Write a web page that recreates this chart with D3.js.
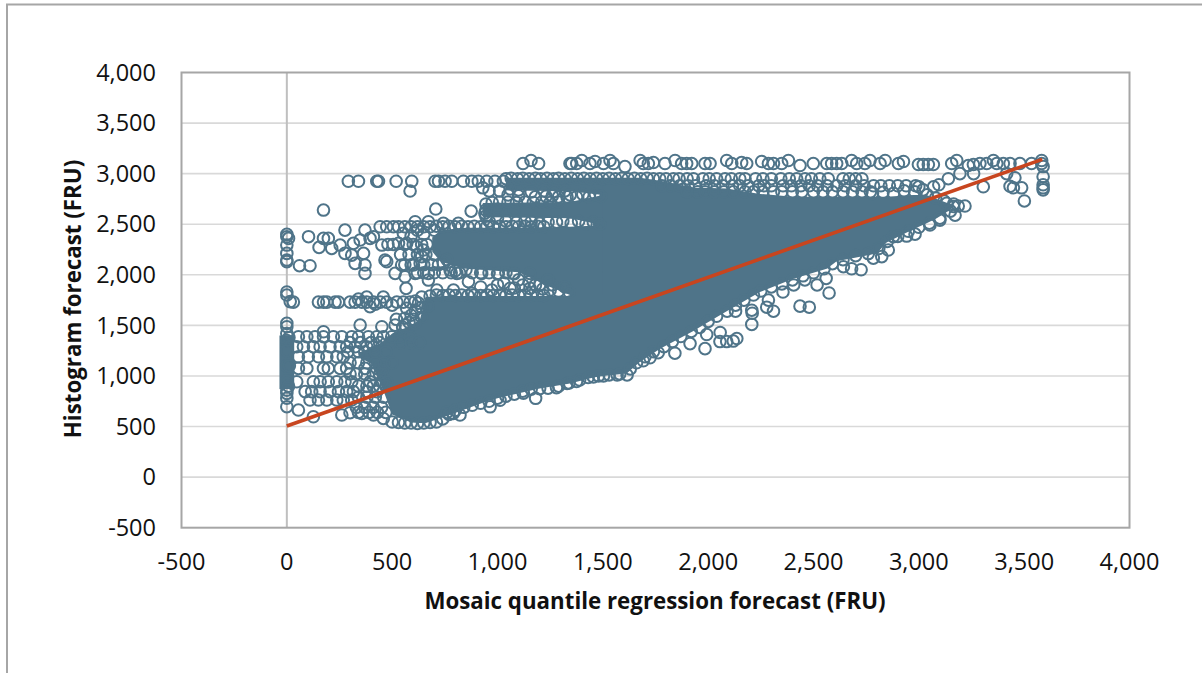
<!DOCTYPE html>
<html><head><meta charset="utf-8">
<script src="https://cdn.jsdelivr.net/npm/d3@7/dist/d3.min.js"></script>
<style>html,body{margin:0;padding:0;background:#fff}svg{display:block}text{font-family:"Open Sans",sans-serif;fill:#111}</style>
</head><body><svg id="c" width="1202" height="673"></svg>
<script>
const xTicks=[-500,0,500,1000,1500,2000,2500,3000,3500,4000];
const yTicks=[-500,0,500,1000,1500,2000,2500,3000,3500,4000];
const xTitle="Mosaic quantile regression forecast (FRU)";
const yTitle="Histogram forecast (FRU)";
const trendX=[0,3586];
const trendY=[505,3141];

// Solid overplotted mass (boundary)
const massX=[340,400,458,500,590,632,660,740,950,1000,1200,1330,1344,1455,1500,1613,1677,1772,1930,1977,2088,2246,2404,2563,2610,2800,2847,2974,3037,3085,3148,3170];
const massLow=[1190,1120,860,620,540,535,535,590,750,780,875,920,925,985,1000,1025,1140,1270,1445,1505,1640,1830,1960,2060,2135,2210,2320,2450,2510,2560,2640,2690];
const massHigh=[1230,1280,1340,1420,1500,1560,1780,1790,1790,1790,1790,1790,1800,2470,2960,2960,2960,2930,2860,2860,2854,2800,2772,2772,2772,2772,2772,2790,2790,2750,2700,2690];

const band1X=[1040,1344,1500];const band1Low=[2835,2825,2790];const band1High=[2960,2960,2960];
const band2X=[930,1344,1500];const band2Low=[2570,2560,2490];const band2High=[2710,2720,2790];
const band3X=[690,730,850,1100,1250,1344,1500];const band3Low=[2230,2130,2060,2025,1880,1800,1800];const band3High=[2370,2440,2465,2465,2470,2475,2490];
const colX=[-35,35];const colLow=[870,870];const colHigh=[1400,1400];

// Individual markers, [x, y] pairs
const topRow=[[1121,3100],[1159,3130],[1195,3100],[1344,3100],[1352,3100],[1376,3100],[1400,3130],[1439,3100],[1463,3120],[1503,3100],[1534,3130],[1550,3100],[1605,3070],[1677,3130],[1692,3100],[1716,3100],[1740,3110],[1795,3100],[1843,3130],[1874,3100],[1898,3100],[1922,3100],[1985,3100],[2009,3100],[2088,3130],[2112,3100],[2159,3110],[2183,3100],[2254,3120],[2286,3100],[2310,3100],[2349,3100],[2381,3130],[2436,3080],[2499,3100],[2563,3100],[2586,3100],[2610,3100],[2634,3100],[2681,3130],[2705,3100],[2744,3100],[2768,3130],[2816,3100],[2840,3130],[2903,3100],[2927,3120],[2998,3090],[3021,3090],[3045,3090],[3069,3090],[3156,3100],[3180,3130],[3235,3080],[3259,3090],[3290,3100],[3322,3100],[3354,3130],[3370,3100],[3401,3100],[3433,3100],[3480,3100],[3535,3100],[3583,3130],[3583,3100]];
const rightSide=[[3590,3070],[3590,2970],[3590,2890],[3590,2860],[3590,2840],[3306,2870],[3433,2875],[3449,2860],[3488,2860],[3501,2730],[3417,3000],[3456,2960],[3140,2950],[3195,3000],[3260,3000],[3070,2870],[3095,2890],[3000,2870],[3020,2840],[2930,2830],[2980,2820],[3040,2790],[3080,2760],[3120,2730],[3165,2700],[2880,2805],[2830,2815],[2780,2805]];
const row2925=[[292,2925],[340,2925],[427,2925],[435,2925],[519,2925],[593,2925],[585,2828],[704,2925],[720,2925],[751,2925],[783,2925],[838,2925],[878,2925],[909,2925],[949,2925],[988,2925],[1028,2925],[930,2860],[960,2830],[1010,2830],[1060,2850],[1100,2840],[1160,2820],[1040,2950],[1065,2955],[1095,2950],[1120,2955],[1150,2950],[1180,2955],[1205,2950],[1235,2955],[1265,2950],[1290,2955],[1320,2950],[1350,2955],[1380,2950],[1410,2955],[1440,2950],[1470,2955],[1500,2950],[1530,2955],[1560,2950],[1590,2955],[1620,2950],[1650,2955],[1680,2950],[1710,2955],[1740,2950],[1220,2830],[1270,2825],[1320,2830],[1050,2790],[1100,2780],[1180,2770],[1260,2780],[1330,2770]];
const speckleA=[[1770,2950],[1800,2950],[1835,2950],[1862,2950],[1900,2950],[1930,2950],[1975,2950],[2005,2950],[2040,2950],[2080,2950],[2110,2950],[2150,2950],[2175,2950],[2225,2950],[2260,2950],[2300,2950],[2345,2950],[2385,2950],[2420,2950],[2460,2950],[2490,2950],[2530,2950],[2570,2950],[2640,2950],[2670,2950],[2700,2950],[2730,2950]];
const speckleB=[[1780,2880],[1820,2880],[1865,2880],[1905,2880],[1940,2880],[1990,2880],[2030,2880],[2070,2880],[2115,2880],[2150,2880],[2190,2880],[2240,2880],[2265,2880],[2300,2880],[2355,2880],[2395,2880],[2440,2880],[2480,2880],[2520,2880],[2565,2880],[2610,2880],[2650,2880],[2700,2880],[2740,2880],[2785,2880],[2820,2880],[2860,2880],[2900,2880],[2940,2880],[2985,2880]];
const speckleC=[[1900,2820],[1950,2820],[1985,2820],[2030,2820],[2075,2820],[2120,2820],[2175,2820],[2215,2820],[2260,2820],[2310,2820],[2350,2820],[2400,2820],[2445,2820],[2500,2820],[2545,2820],[2590,2820],[2640,2820],[2685,2820],[2730,2820],[2770,2820]];
const gapFill=[[1230,2775],[1290,2770],[1345,2790],[1375,2770],[1405,2795],[1435,2770],[1465,2795],[1490,2775],[1040,2530],[1090,2520],[1160,2525],[1240,2520],[1310,2530],[1350,2510],[1385,2530],[1420,2505],[1455,2520],[1485,2500],[1180,1900],[1215,1860],[1260,1900],[1290,1840],[1320,1880],[1340,1830],[1080,1870],[1120,1900]];
const midLeft=[[174,2640],[707,2650],[875,2630],[0,2400],[0,2376],[8,2360],[0,2294],[0,2212],[0,2146],[0,2130],[103,2377],[60,2090],[110,2090],[153,2271],[174,2360],[197,2360],[213,2261],[276,2442],[253,2294],[276,2212],[316,2311],[371,2442],[348,2344],[395,2360],[451,2294],[308,2195],[324,2113],[364,2212],[371,2097],[371,2014],[411,2377],[443,2475],[474,2475],[506,2475],[553,2410],[609,2525],[672,2525],[743,2508],[814,2508],[466,2146],[474,2130],[514,2014],[545,2097],[561,1981],[601,2097],[609,2014],[633,2113],[672,1948],[672,2014],[807,2014],[862,1932],[925,2014],[1004,2014],[1075,2014],[1154,2014],[569,2311],[617,2278],[648,2245],[530,2311],[743,2113],[775,2047],[620,2440],[650,2400],[590,2380],[700,2200],[760,2150],[640,2180],[700,2440],[800,2040],[850,2050],[960,2530],[1000,2560],[940,2610],[1000,2650],[1080,2640],[1130,2530],[1200,2510],[1280,2520],
[530,2475],[560,2475],[590,2475],[620,2475],[650,2475],[680,2475],[710,2480],[740,2475],[770,2480],[800,2475],[830,2480],[860,2475],[890,2480],[920,2475],[950,2480],[980,2475],[1010,2480],[1040,2475],[1070,2480],[1100,2475],[1130,2480],[1160,2475],[1190,2480],[1220,2475],
[480,2300],[505,2300],[560,2300],[600,2300],[640,2300],[665,2300],[540,2200],[580,2200],[620,2200],[660,2200],[560,2100],[590,2100],[650,2100],[690,2100],[720,2100],[620,2020],[650,2020],[700,2020],[740,2020],[780,2020],[820,2020],
[945,2580],[945,2640],[945,2700],[975,2715],[1010,2720],[1050,2720],[1090,2715],[1130,2720],[1170,2715],[1210,2720],[1250,2715],[1290,2720]];
const gapRings=[[566,1866],[712,1849],[791,1849],[878,1816],[973,1849],[1060,1866],[1154,1866],[1200,1900],[1240,1950],[1100,1950],[1000,1900],[920,1880],[1250,1850],[880,2020],[920,2020],[960,2020],[1000,2010],[1040,2020],[1080,2010],[1030,1920],[1150,1930],[680,1790],[710,1800],[740,1795],[770,1800],[800,1795],[830,1800],[860,1795],[890,1800],[920,1795],[950,1800],[980,1795],[1010,1800],[1040,1795],[1070,1800],[1100,1795],[1130,1800],[1160,1795],[1190,1800],[1220,1795]];
const row1730=[[0,1830],[0,1800],[16,1735],[31,1730],[150,1730],[174,1730],[190,1730],[229,1730],[245,1730],[300,1730],[324,1730],[356,1730],[379,1730],[411,1730],[443,1730],[474,1730],[522,1730],[553,1730],[585,1730],[395,1685],[379,1780],[569,1668],[458,1780],[340,1760],[420,1710],[500,1700],[610,1740],[640,1780],[670,1690],[520,1560],[560,1570],[600,1560],[640,1580],[610,1650],[640,1680],[590,1600],[625,1720],[550,1480],[580,1530]];
const colZero=[[0,1520],[0,1487],[0,1420],[0,1350],[0,1250],[0,1100],[0,950],[0,860],[0,828],[0,780],[0,696],[10,1380],[12,1100],[8,900]];
const leftCloud=[[55,1388],[95,1388],[134,1388],[174,1388],[221,1388],[261,1388],[308,1388],[340,1388],[387,1388],[427,1388],[458,1388],[498,1388],[538,1388],[585,1388],
[47,1289],[79,1289],[126,1289],[158,1289],[205,1289],[253,1289],[284,1289],[324,1289],[379,1289],[411,1289],
[55,1190],[102,1190],[150,1190],[190,1190],[237,1190],[268,1190],
[55,1075],[95,1075],[174,1075],[197,1075],[253,1075],[284,1075],[371,1075],[427,1075],[458,1075],
[47,943],[126,943],[158,943],[197,943],[237,943],[276,943],[308,943],[395,943],[451,943],[474,943],
[87,845],[118,845],[158,845],[205,845],[245,845],[284,845],[316,845],[379,845],[427,845],
[110,762],[150,762],[190,762],[237,762],[268,762],[308,762],
[55,663],[126,597],[261,614],[300,637],[356,630],[411,614],[458,580],
[348,1503],[451,1487],[514,1503],[561,1503],[609,1520],[174,1437],
[300,1330],[350,1330],[400,1330],[440,1330],[490,1330],[540,1330],[590,1330],[630,1330],
[290,1240],[340,1240],[370,1240],[420,1240],[470,1240],[300,1130],[340,1130],[380,1130],[420,1130],[460,1130],[500,1130],
[300,1020],[330,1020],[370,1020],[410,1020],[440,1020],[340,900],[380,900],[410,900],[440,900],[470,900],
[340,790],[380,790],[420,790],[460,790],[330,690],[370,690],[410,690],[450,690],[340,640],[390,640],[430,640],[470,640]];
const lowerEdge=[[500,545],[530,540],[560,535],[590,535],[620,530],[650,535],[680,540],[710,545],[740,575],[770,620],[822,614],[790,630],[965,695],[1012,760],[1123,830],[1181,779],[1280,885],[1330,925],[1375,945],[1455,990],[1503,1000],[1568,1010],[1615,1010],[1692,1150],[1724,1180],[1763,1230],[1842,1225],[1914,1320],[1985,1270],[1993,1410],[2056,1340],[2057,1430],[2088,1340],[2119,1345],[2136,1370],[2207,1510],[2130,1640],[2207,1650],[2278,1680],[2209,1620],[2310,1640],[2436,1690],[2480,1680],[2574,1820],[2517,1900],[2459,1950],[2406,1900],[2355,1830],[2286,1750],[2560,1965],[2642,2080],[2681,2060],[2726,2050],[2784,2165],[2855,2245],[2824,2180],[2879,2377],[2942,2383],[2982,2402],[3053,2492],[3100,2541],[3172,2590],[3219,2680],[3187,2680],[3164,2675],[3132,2706]];
const lowerEdge2=[[760,640],[800,660],[840,690],[880,710],[920,730],[960,750],[1000,780],[1040,800],[1080,820],[1120,850],[1160,870],[1200,875],[1240,880],[1290,900],[1340,930],[1390,960],[1430,985],[1480,1000],[1530,1010],[1580,1020],[1630,1070],[1660,1130],[1700,1190],[1740,1240],[1790,1290],[1830,1340],[1870,1390],[1920,1440],[1960,1480],[2000,1540],[2040,1590],[2090,1640],[2130,1700],[2170,1750],[2215,1800],[2250,1840],[2300,1880],[2350,1910],[2400,1950],[2450,1990],[2500,2020],[2550,2060],[2590,2110],[2640,2150],[2700,2190],[2760,2210],[2810,2260],[2850,2330],[2900,2380],[2950,2430],[3000,2470],[3050,2510],[3100,2560],[3150,2630]];
const scatter=[...topRow,...rightSide,...row2925,...speckleA,...speckleB,...speckleC,...gapFill,...midLeft,...gapRings,...row1730,...colZero,...leftCloud,...lowerEdge,...lowerEdge2];

const svg=d3.select("#c");
const x=d3.scaleLinear().domain([-500,4000]).range([181.5,1129.5]);
const y=d3.scaleLinear().domain([-500,4000]).range([527.7,72.5]);
const fmt=d3.format(",");
const tickFmt=d=>fmt(d).replace("\u2212","-");

svg.append("path").attr("d","M7,673V4.5H1202").attr("fill","none").attr("stroke","#a6a6a6").attr("stroke-width",2);

svg.append("g").attr("stroke","#d9d9d9").attr("stroke-width",1.6).selectAll("line").data(yTicks.filter(d=>d>-500&&d<4000)).join("line")
 .attr("x1",x.range()[0]).attr("x2",x.range()[1]).attr("y1",d=>y(d)).attr("y2",d=>y(d));
svg.append("line").attr("x1",x(0)).attr("x2",x(0)).attr("y1",y(4000)).attr("y2",y(-500)).attr("stroke","#bfbfbf").attr("stroke-width",2);
svg.append("rect").attr("x",x(-500)).attr("y",y(4000)).attr("width",x(4000)-x(-500)).attr("height",y(-500)-y(4000)).attr("fill","none").attr("stroke","#a6a6a6").attr("stroke-width",2);

const ink="#4f7489";
const area=d3.area().x(d=>x(d[0])).y0(d=>y(d[1])).y1(d=>y(d[2]));
[[massX,massLow,massHigh],[band1X,band1Low,band1High],[band2X,band2Low,band2High],[band3X,band3Low,band3High],[colX,colLow,colHigh]].forEach(b=>{
 svg.append("path").attr("fill",ink).attr("d",area(b[0].map((v,i)=>[v,b[1][i],b[2][i]])));
});
svg.append("g").attr("fill","none").attr("stroke",ink).attr("stroke-width",2).selectAll("circle").data(scatter).join("circle")
 .attr("cx",d=>x(d[0])).attr("cy",d=>y(d[1])).attr("r",5.8);

svg.append("path").attr("fill","none").attr("stroke","#c8451f").attr("stroke-width",3.6)
 .attr("d",d3.line().x(d=>x(d[0])).y(d=>y(d[1]))(trendX.map((v,i)=>[v,trendY[i]])));

svg.append("g").selectAll("text").data(yTicks).join("text").attr("x",156).attr("y",d=>y(d)).attr("dy","0.35em").attr("text-anchor","end").attr("font-size",23.5).text(tickFmt);
svg.append("g").selectAll("text").data(xTicks).join("text").attr("x",d=>x(d)).attr("y",562).attr("dy","0.35em").attr("text-anchor","middle").attr("font-size",23.5).text(tickFmt);
svg.append("text").attr("x",655).attr("y",601).attr("dy","0.35em").attr("text-anchor","middle").attr("font-size",22.3).attr("font-weight",700).text(xTitle);
svg.append("text").attr("transform","translate(73,299) rotate(-90)").attr("dy","0.35em").attr("text-anchor","middle").attr("font-size",22.3).attr("font-weight",700).text(yTitle);
</script></body></html>
